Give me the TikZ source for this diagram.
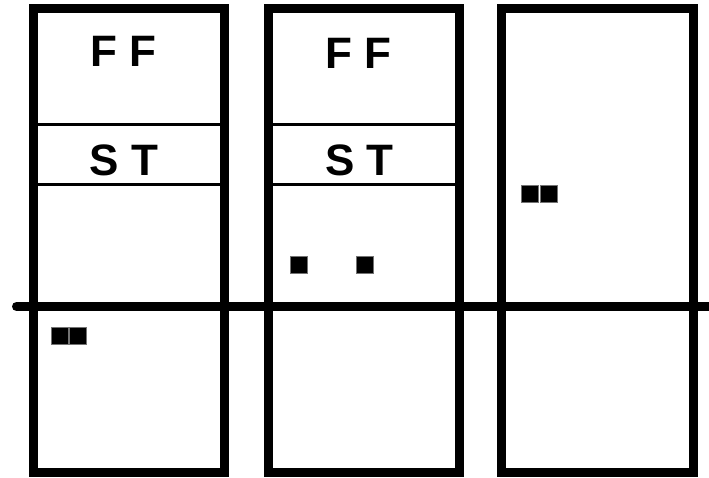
\documentclass[tikz,border=0pt]{standalone}
\usepackage{fontspec}
\setmainfont{Liberation Sans}
\begin{document}
\begin{tikzpicture}[x=1pt,y=-1pt,
  frame/.style={draw=black,line width=9pt,line join=miter},
  divider/.style={draw=black,line width=3pt},
  lbl/.style={anchor=base,inner sep=0pt,font=\fontsize{44}{44}\selectfont\bfseries},
  blk/.style={fill=black,draw=black!55,line width=0.6pt,minimum size=17pt,inner sep=0pt}]
\useasboundingbox[fill=white] (0,0) rectangle (709,478);
% frames
\draw[frame] (33,8.5) rectangle (224,472.5);
\draw[frame] (268,8.5) rectangle (459,472.5);
\draw[frame] (501.5,8.5) rectangle (693,472.5);
% dividers
\draw[divider] (37.5,125) -- (219.5,125);
\draw[divider] (37.5,185) -- (219.5,185);
\draw[divider] (272.5,125) -- (454.5,125);
\draw[divider] (272.5,185) -- (454.5,185);
% horizontal line
\draw[line width=9pt,line cap=round] (16.5,306.5) -- (712,306.5);
% labels
\node[lbl] (ff1) at (123.5,67) {F F};
\node[lbl] (st1) at (124,176) {S T};
\node[lbl] (ff2) at (358.5,68.5) {F F};
\node[lbl] (st2) at (359.5,176) {S T};
% squares
\node[blk] (a1) at (59.3,336) {};
\node[blk] (a2) at (78.1,336) {};
\node[blk] (b1) at (298.7,265) {};
\node[blk] (b2) at (365,265) {};
\node[blk] (c1) at (530,194) {};
\node[blk] (c2) at (548.9,194) {};
\end{tikzpicture}
\end{document}
